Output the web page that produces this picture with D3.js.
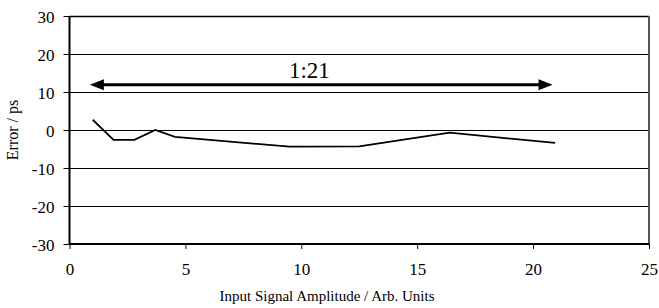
<!DOCTYPE html>
<html><head><meta charset="utf-8">
<script src="https://cdn.jsdelivr.net/npm/d3@7"></script>
<style>body{margin:0;background:#fff}svg{display:block}svg text{font-family:"Liberation Serif",serif !important;fill:#000}</style>
</head><body>
<svg id="c" width="659" height="308"></svg>
<script>
const xValues = [1, 1.9, 2.8, 3.7, 4.55, 9.5, 12.5, 16.4, 20.95];
const errorValues = [2.7, -2.6, -2.6, 0, -1.8, -4.4, -4.3, -0.7, -3.4];
const xTicks = [0, 5, 10, 15, 20, 25];
const yTicks = [-30, -20, -10, 0, 10, 20, 30];
const arrowRange = [0.88, 20.84];
const arrowLevel = [11.9];
const arrowLabel = ["1:21"];
const labelX = [10.35];

const svg = d3.select("#c");
const L = 69.5, R = 649, T = 16, B = 244;
const x = d3.scaleLinear().domain([0, 25]).range([L, R]);
const y = d3.scaleLinear().domain([-30, 30]).range([B, T]);
const fmt = d => String(d);

// gridlines
svg.append("g").selectAll("line").data(yTicks.filter(d => d > -30 && d < 30)).join("line")
  .attr("x1", L).attr("x2", R).attr("y1", d => Math.round(y(d)) + 0.5).attr("y2", d => Math.round(y(d)) + 0.5)
  .attr("stroke", "#000").attr("stroke-width", 1);

// frame top/right
svg.append("line").attr("x1", L).attr("x2", R).attr("y1", T + 0.5).attr("y2", T + 0.5).attr("stroke", "#000").attr("stroke-width", 1.5);
svg.append("line").attr("x1", R).attr("x2", R).attr("y1", T).attr("y2", B).attr("stroke", "#555").attr("stroke-width", 2);

// axes
const yAxis = d3.axisLeft(y).tickValues(yTicks).tickSize(6).tickFormat(fmt);
const gy = svg.append("g").attr("transform", `translate(${L},0)`).call(yAxis).attr("font-family", null);
gy.select(".domain").attr("stroke-width", 2).attr("d", `M0,${T}V${B}`);
gy.selectAll(".tick line").attr("stroke-width", 1);
gy.selectAll(".tick text").attr("font-size", 17).attr("x", -15).attr("dy", "0.36em");

const xAxis = d3.axisBottom(x).tickValues(xTicks).tickSize(5).tickFormat(fmt);
const gx = svg.append("g").attr("transform", `translate(0,${B})`).call(xAxis).attr("font-family", null);
gx.select(".domain").attr("stroke-width", 2).attr("d", `M${L},0H${R}`);
gx.selectAll(".tick text").attr("font-size", 17).attr("y", 19);

// data line
svg.append("path").datum(xValues.map((v, i) => [v, errorValues[i]]))
  .attr("fill", "none").attr("stroke", "#000").attr("stroke-width", 1.8)
  .attr("d", d3.line().x(d => x(d[0])).y(d => y(d[1])));

// arrow
const ay = y(arrowLevel[0]);
const ax1 = x(arrowRange[0]), ax2 = x(arrowRange[1]);
const hl = 14, hh = 5.5;
svg.append("line").attr("x1", ax1 + hl - 2).attr("x2", ax2 - hl + 2).attr("y1", ay).attr("y2", ay)
  .attr("stroke", "#000").attr("stroke-width", 3);
svg.append("path").attr("d", `M${ax1},${ay}L${ax1 + hl},${ay - hh}L${ax1 + hl},${ay + hh}Z`).attr("fill", "#000");
svg.append("path").attr("d", `M${ax2},${ay}L${ax2 - hl},${ay - hh}L${ax2 - hl},${ay + hh}Z`).attr("fill", "#000");
svg.append("text").attr("x", x(labelX[0])).attr("y", ay - 6.5).attr("text-anchor", "middle")
  .attr("font-size", 23).text(arrowLabel[0]);

// axis titles
svg.append("text").attr("x", 327).attr("y", 301).attr("text-anchor", "middle")
  .attr("font-size", 15).text("Input Signal Amplitude / Arb. Units");
svg.append("text").attr("transform", `translate(18,${(T + B) / 2}) rotate(-90)`).attr("text-anchor", "middle")
  .attr("font-size", 16).text("Error / ps");
</script>
</body></html>
